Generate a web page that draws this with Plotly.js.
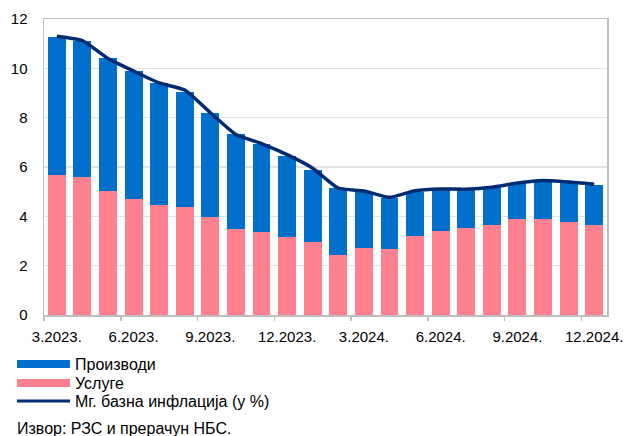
<!DOCTYPE html>
<html>
<head>
<meta charset="utf-8">
<script src="https://cdn.plot.ly/plotly-3.0.1.min.js"></script>
<style>
  html, body { margin: 0; padding: 0; background: #fff; }
  #chart { width: 624px; height: 436px; }
</style>
</head>
<body>
<div id="chart"></div>
<script>
// months shown as categories, one bar each
var months = ['3.2023.', '4.2023.', '5.2023.', '6.2023.', '7.2023.', '8.2023.', '9.2023.', '10.2023.',
  '11.2023.', '12.2023.', '1.2024.', '2.2024.', '3.2024.', '4.2024.', '5.2024.', '6.2024.',
  '7.2024.', '8.2024.', '9.2024.', '10.2024.', '11.2024.', '12.2024.'];

// contribution of services (pink) and goods (blue), pp
var services = [5.68, 5.59, 5.03, 4.69, 4.46, 4.38, 3.96, 3.49, 3.38, 3.16, 2.95, 2.43,
  2.72, 2.68, 3.19, 3.41, 3.53, 3.65, 3.91, 3.88, 3.78, 3.64];
var goods = [5.60, 5.52, 5.38, 5.20, 4.95, 4.67, 4.24, 3.83, 3.57, 3.30, 2.94, 2.71,
  2.25, 2.08, 1.81, 1.70, 1.56, 1.51, 1.43, 1.58, 1.58, 1.62];

// y-o-y core inflation, %
var core = [11.30, 11.12, 10.40, 9.89, 9.41, 9.12, 8.20, 7.32, 6.95, 6.50, 5.95, 5.14,
  5.03, 4.77, 5.04, 5.11, 5.10, 5.18, 5.35, 5.45, 5.39, 5.30];

var legendNames = ['Производи', 'Услуге', 'Мг. базна инфлација (у %)'];
var sourceText = 'Извор: РЗС и прерачун НБС.';

var blue = '#0070CC';
var pink = '#FF808E';
var navy = '#002B72';
var font = 'Liberation Sans, Arial, sans-serif';

var idx = months.map(function (m, i) { return i; });
var labelIdx = idx.filter(function (i) { return i % 3 === 0; });
var tickIdx = [-0.5].concat(labelIdx.slice(1).map(function (i) { return i - 0.5; }));

// plot area in pixels, for placing the hand made legend
var L = 44, R = 17, T = 19, B = 121, W = 624, H = 436;
var pw = W - L - R, ph = H - T - B;
function px(x) { return (x - L) / pw; }
function py(y) { return (H - B - y) / ph; }

var traces = [
  { type: 'bar', x: idx, y: services, name: legendNames[1], marker: { color: pink, line: { width: 0 } }, showlegend: false },
  { type: 'bar', x: idx, y: goods, name: legendNames[0], marker: { color: blue, line: { width: 0 } }, showlegend: false },
  { type: 'scatter', mode: 'lines', x: idx, y: core, name: legendNames[2], xaxis: 'x2',
    line: { color: navy, width: 3.5, shape: 'spline', smoothing: 0.5 }, showlegend: false }
];

var rows = [364, 383, 401];
var shapes = [
  { type: 'rect', xref: 'paper', yref: 'paper', x0: px(17), x1: px(70), y0: py(rows[0] + 4), y1: py(rows[0] - 4), fillcolor: blue, line: { width: 0 } },
  { type: 'rect', xref: 'paper', yref: 'paper', x0: px(17), x1: px(70), y0: py(rows[1] + 4), y1: py(rows[1] - 4), fillcolor: pink, line: { width: 0 } },
  { type: 'line', xref: 'paper', yref: 'paper', x0: px(17), x1: px(70), y0: py(rows[2]), y1: py(rows[2]), line: { color: navy, width: 3 } }
];
var annotations = legendNames.map(function (name, i) {
  return { xref: 'paper', yref: 'paper', x: px(73), y: py(rows[i]), text: name, showarrow: false,
    xanchor: 'left', yanchor: 'middle', font: { family: font, size: 16, color: '#000' } };
});
annotations.push({ xref: 'paper', yref: 'paper', x: px(15), y: py(428), text: sourceText, showarrow: false,
  xanchor: 'left', yanchor: 'middle', font: { family: font, size: 16, color: '#000' } });

var layout = {
  width: W, height: H,
  margin: { l: L, r: R, t: T, b: B, pad: 0 },
  paper_bgcolor: '#fff', plot_bgcolor: '#fff',
  barmode: 'stack', bargap: 0.3,
  font: { family: font, size: 15, color: '#000' },
  showlegend: false,
  xaxis: {
    range: [-0.5, months.length - 0.5], tickvals: labelIdx,
    ticktext: labelIdx.map(function (i) { return months[i]; }),
    ticks: '', showgrid: false, zeroline: false,
    showline: true, linecolor: '#BFBFBF', linewidth: 1.5, mirror: true,
    ticklabelstandoff: 7, fixedrange: true
  },
  xaxis2: {
    overlaying: 'x', range: [-0.5, months.length - 0.5], tickvals: tickIdx,
    ticks: 'outside', ticklen: 5, tickcolor: '#BFBFBF', tickwidth: 1.5,
    showticklabels: false, showgrid: false, zeroline: false, showline: false
  },
  yaxis: {
    range: [0, 12], dtick: 2, tick0: 0, ticks: '',
    showgrid: true, gridcolor: '#E3E3E3', gridwidth: 1.5, zeroline: false,
    showline: true, linecolor: '#BFBFBF', linewidth: 1.5, mirror: true,
    ticklabelstandoff: 12, fixedrange: true
  },
  shapes: shapes,
  annotations: annotations
};

Plotly.newPlot('chart', traces, layout, { staticPlot: true, displayModeBar: false });
</script>
</body>
</html>
